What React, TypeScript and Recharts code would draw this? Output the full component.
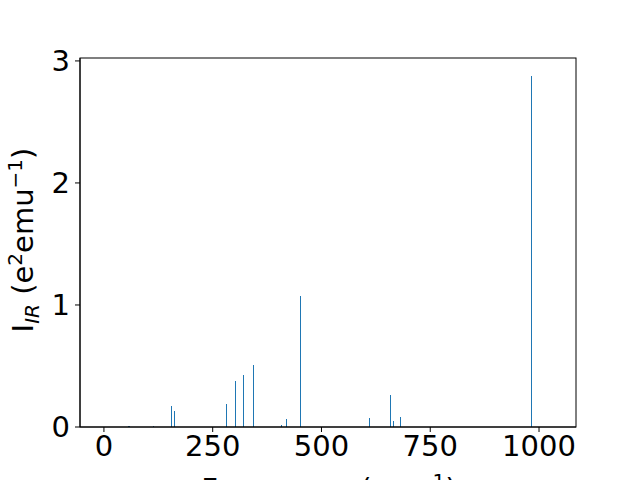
import { BarChart, Bar, XAxis, YAxis } from "recharts";

// vibrational modes: frequency (cm^-1) and IR intensity
const frequencies = [56, 59, 115, 156, 163, 281, 302, 321, 345, 409, 421, 453, 610, 660, 666, 683, 982];
const intensities = [0.01, 0.01, 0.01, 0.17, 0.13, 0.19, 0.38, 0.43, 0.51, 0.016, 0.065, 1.07, 0.075, 0.26, 0.05, 0.08, 2.88];

const xTicks = [0, 250, 500, 750, 1000];
const yTicks = [0, 1, 2, 3];

const data = frequencies.map((f, i) => ({ freq: f, ir: intensities[i] }));

const FONT = "'DejaVu Sans', sans-serif";

const YLabel = () => (
  <text
    transform="translate(33, 240) rotate(-90)"
    textAnchor="middle"
    fontSize={29}
    fontFamily={FONT}
    fill="#000"
  >
    <tspan>I</tspan>
    <tspan fontSize={20} fontStyle="italic" dy={6}>IR</tspan>
    <tspan dy={-6}> (e</tspan>
    <tspan fontSize={20} dy={-11}>2</tspan>
    <tspan dy={11}>emu</tspan>
    <tspan fontSize={20} dy={-11}>−1</tspan>
    <tspan dy={11}>)</tspan>
  </text>
);

const XLabel = () => (
  <text x={329} y={499} textAnchor="middle" fontSize={29} fontFamily={FONT} fill="#000">
    <tspan>Frequency (cm</tspan>
    <tspan fontSize={20} dy={-11}>−1</tspan>
    <tspan dy={11}>)</tspan>
  </text>
);

export default function App() {
  return (
    <div style={{ position: "absolute", left: 0, top: 0, width: 640, height: 480, background: "#fff", overflow: "hidden" }}>
      <BarChart
        width={640}
        height={480}
        data={data}
        margin={{ top: 58, right: 64, left: 0, bottom: 0 }}
        barGap={0}
      >
        <XAxis
          dataKey="freq"
          type="number"
          domain={[-55, 1085]}
          ticks={xTicks}
          allowDataOverflow
          height={53}
          tick={{ fontSize: 29, fontFamily: FONT, fill: "#000" }}
          tickSize={5}
          tickMargin={3}
          axisLine={{ stroke: "#000", strokeWidth: 1 }}
          tickLine={{ stroke: "#000" }}
        />
        <YAxis
          type="number"
          domain={[0, 3.024]}
          ticks={yTicks}
          allowDataOverflow
          width={80}
          tick={{ fontSize: 29, fontFamily: FONT, fill: "#000" }}
          tickSize={5}
          tickMargin={5}
          axisLine={{ stroke: "#000", strokeWidth: 1 }}
          tickLine={{ stroke: "#000" }}
        />
        <Bar dataKey="ir" fill="#1f77b4" barSize={1} shapeRendering="crispEdges" isAnimationActive={false} />
        <YLabel />
        <XLabel />
      </BarChart>
      <svg width={640} height={480} style={{ position: "absolute", left: 0, top: 0, pointerEvents: "none" }}>
        <rect x={80} y={58} width={496} height={369} fill="none" stroke="#000" strokeWidth={1} />
      </svg>
    </div>
  );
}
